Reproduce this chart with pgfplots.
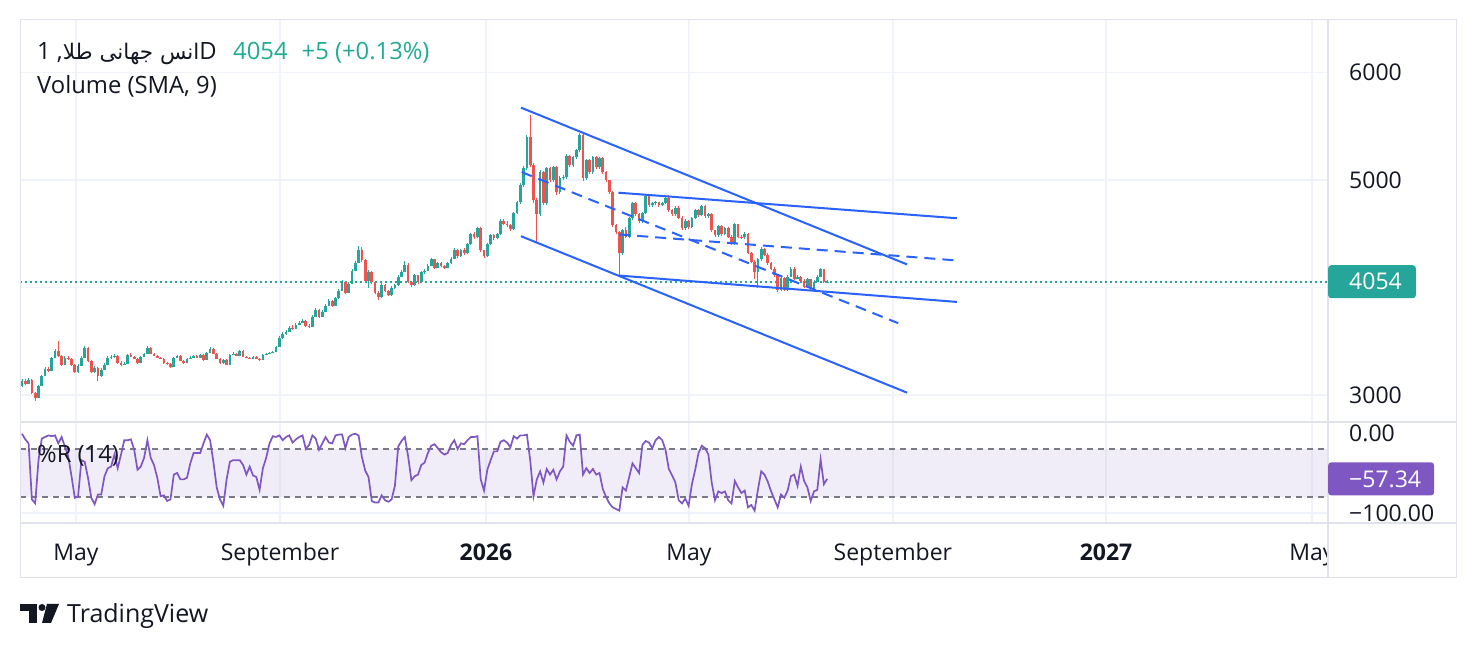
\documentclass[border=0pt]{standalone}
\usepackage{pgfplots}
\pgfplotsset{compat=1.18}
\usepackage{pgfplotstable}
\usepackage{fontspec}
\setmainfont{Open Sans}
\newfontfamily\arabicfont[Script=Arabic]{DejaVu Sans}
\TeXXeTstate=1
\definecolor{tvup}{HTML}{26A69A}
\definecolor{tvdown}{HTML}{EF5350}
\definecolor{tvblue}{HTML}{2962FF}
\definecolor{tvgrid}{HTML}{F0F3FA}
\definecolor{tvsep}{HTML}{E0E3EB}
\definecolor{tvtext}{HTML}{131722}
\definecolor{tvpurple}{HTML}{7E57C2}
\definecolor{tvdash}{HTML}{787B86}
\definecolor{tvteal}{HTML}{22AB94}
\newcommand{\tvfont}{\fontsize{23}{28}\selectfont}
\newcommand{\tvtitlefont}{\fontsize{23.8}{28}\selectfont}

\pgfplotstableread{
i o h l c r
0 3087 3150 3075 3133 -1
1 3133 3145 3095 3105 -8
2 3105 3155 3098 3142 -13
3 3142 3150 3010 3021 -83
4 3021 3030 2948 2975 -88
5 2975 3095 2968 3087 -34
6 3087 3190 3080 3180 -7
7 3180 3258 3172 3245 -5
8 3245 3262 3215 3226 -3
9 3226 3355 3220 3348 -4
10 3348 3425 3340 3413 -3
11 3413 3506 3355 3366 -13
12 3366 3372 3270 3282 -5
13 3282 3360 3275 3348 -17
14 3348 3365 3325 3338 -29
15 3338 3345 3270 3282 -54
16 3282 3290 3205 3217 -81
17 3217 3285 3208 3273 -79
18 3273 3358 3265 3348 -34
19 3348 3460 3340 3441 -36
20 3441 3450 3310 3320 -56
21 3320 3328 3205 3217 -81
22 3217 3265 3200 3254 -89
23 3254 3262 3133 3180 -77
24 3180 3248 3170 3236 -77
25 3236 3295 3228 3282 -54
26 3282 3358 3275 3348 -44
27 3348 3368 3335 3352 -42
28 3352 3380 3345 3366 -27
29 3366 3372 3292 3301 -44
30 3301 3312 3272 3282 -27
31 3282 3305 3275 3292 -9
32 3292 3385 3285 3376 -9
33 3376 3388 3350 3357 -8
34 3357 3365 3330 3338 -21
35 3338 3345 3292 3301 -46
36 3301 3365 3295 3357 -42
37 3357 3395 3350 3385 -31
38 3385 3452 3378 3441 -9
39 3441 3448 3378 3385 -31
40 3385 3392 3358 3366 -40
41 3366 3374 3340 3348 -56
42 3348 3356 3330 3338 -79
43 3338 3345 3292 3301 -78
44 3301 3310 3282 3292 -85
45 3292 3298 3255 3264 -83
46 3264 3355 3258 3348 -52
47 3348 3375 3340 3366 -50
48 3366 3372 3312 3320 -58
49 3320 3328 3292 3301 -58
50 3301 3345 3295 3338 -56
51 3338 3358 3330 3345 -38
52 3345 3375 3340 3366 -25
53 3366 3372 3340 3348 -25
54 3348 3385 3342 3376 -25
55 3376 3382 3320 3329 -13
56 3329 3402 3322 3394 -2
57 3394 3445 3388 3431 -9
58 3431 3438 3378 3385 -36
59 3385 3390 3330 3338 -68
60 3338 3345 3292 3301 -83
61 3301 3338 3290 3329 -91
62 3329 3336 3275 3282 -58
63 3282 3385 3276 3376 -36
64 3376 3396 3368 3385 -34
65 3385 3392 3358 3366 -34
66 3366 3422 3360 3413 -34
67 3413 3420 3350 3357 -40
68 3357 3365 3340 3348 -52
69 3348 3356 3330 3338 -42
70 3338 3366 3332 3357 -53
71 3357 3362 3330 3338 -55
72 3338 3345 3320 3329 -71
73 3329 3384 3322 3376 -44
74 3376 3394 3370 3385 -31
75 3385 3403 3378 3394 -13
76 3394 3412 3388 3404 -4
77 3404 3460 3398 3450 -5
78 3450 3545 3445 3534 -3
79 3534 3582 3525 3571 -9
80 3571 3600 3560 3590 -5
81 3590 3640 3582 3627 -3
82 3627 3650 3608 3618 -12
83 3618 3666 3610 3655 -8
84 3655 3685 3648 3674 -5
85 3674 3705 3668 3692 -3
86 3692 3700 3636 3646 -20
87 3646 3658 3625 3637 -15
88 3637 3740 3630 3730 -3
89 3730 3808 3722 3795 -7
90 3795 3802 3720 3730 -21
91 3730 3788 3722 3776 -13
92 3776 3845 3768 3832 -5
93 3832 3892 3825 3879 -12
94 3879 3888 3822 3832 -13
95 3832 3910 3825 3898 -3
96 3898 3985 3890 3972 -2
97 3972 4070 3965 4056 -2
98 4056 4065 3940 3953 -19
99 3953 4050 3945 4037 -5
100 4037 4170 4030 4158 -2
101 4158 4248 4150 4233 -1
102 4233 4382 4225 4354 -3
103 4354 4380 4240 4252 -30
104 4252 4262 4050 4065 -47
105 4065 4160 4000 4149 -55
106 4149 4158 4030 4047 -85
107 4047 4060 3940 3953 -87
108 3953 3968 3885 3916 -87
109 3916 4040 3905 4028 -78
110 4028 4035 3960 3972 -84
111 3972 3980 3920 3935 -86
112 3935 4012 3925 4000 -83
113 4000 4032 3990 4019 -66
114 4019 4115 4010 4102 -17
115 4102 4160 4095 4149 -10
116 4149 4245 4140 4214 -5
117 4214 4225 4040 4056 -29
118 4056 4065 4005 4019 -59
119 4019 4125 4010 4112 -54
120 4112 4120 4035 4047 -52
121 4047 4150 4040 4140 -40
122 4140 4170 4130 4158 -37
123 4158 4215 4150 4205 -25
124 4205 4272 4198 4261 -16
125 4261 4268 4175 4186 -14
126 4186 4235 4178 4224 -19
127 4224 4240 4195 4205 -24
128 4205 4212 4175 4186 -27
129 4186 4235 4180 4224 -25
130 4224 4282 4218 4270 -15
131 4270 4365 4262 4354 -9
132 4354 4362 4278 4289 -20
133 4289 4358 4282 4345 -13
134 4345 4370 4305 4317 -14
135 4317 4412 4310 4401 -9
136 4401 4508 4392 4494 -5
137 4494 4515 4455 4466 -5
138 4466 4562 4458 4550 -4
139 4550 4560 4330 4345 -58
140 4345 4352 4275 4289 -72
141 4289 4412 4280 4401 -46
142 4401 4498 4392 4485 -34
143 4485 4500 4445 4457 -23
144 4457 4505 4448 4494 -23
145 4494 4640 4485 4624 -11
146 4624 4640 4585 4596 -9
147 4596 4615 4565 4578 -12
148 4578 4590 4530 4541 -18
149 4541 4705 4532 4690 -4
150 4690 4810 4680 4792 -7
151 4792 4970 4780 4951 -3
152 4951 5130 4940 5109 -3
153 5109 5420 5095 5398 -2
154 5398 5603 5120 5137 -34
155 5137 5160 4790 4811 -79
156 4811 4830 4410 4680 -58
157 4680 5090 4665 5072 -48
158 5072 5085 4765 4783 -62
159 4783 5125 4770 5109 -45
160 5109 5120 4980 4997 -52
161 4997 5135 4985 5118 -46
162 5118 5130 4865 4885 -58
163 4885 5035 4870 5016 -48
164 5016 5045 5000 5025 -42
165 5025 5240 5015 5221 -3
166 5221 5235 5125 5137 -11
167 5137 5225 5125 5212 -16
168 5212 5290 5200 5277 -3
169 5277 5440 5265 5417 -2
170 5417 5430 4995 5016 -52
171 5016 5200 5005 5184 -44
172 5184 5195 5060 5072 -50
173 5072 5228 5060 5212 -45
174 5212 5225 5105 5118 -52
175 5118 5215 5108 5202 -50
176 5202 5212 5060 5072 -70
177 5072 5085 4985 4997 -80
178 4997 5005 4870 4885 -88
179 4885 4895 4560 4578 -93
180 4578 4590 4500 4513 -95
181 4513 4525 4112 4317 -97
182 4317 4545 4305 4531 -68
183 4531 4560 4460 4475 -72
184 4475 4655 4465 4643 -55
185 4643 4795 4630 4783 -38
186 4783 4795 4668 4680 -44
187 4680 4690 4600 4615 -50
188 4615 4702 4605 4690 -15
189 4690 4862 4680 4848 -10
190 4848 4860 4752 4764 -12
191 4764 4798 4750 4783 -19
192 4783 4808 4770 4792 -9
193 4792 4800 4752 4764 -5
194 4764 4795 4755 4783 -9
195 4783 4845 4775 4829 -21
196 4829 4860 4705 4718 -45
197 4718 4728 4668 4680 -53
198 4680 4758 4670 4745 -62
199 4745 4755 4640 4652 -84
200 4652 4662 4535 4550 -88
201 4550 4638 4540 4624 -82
202 4624 4632 4545 4559 -91
203 4559 4655 4550 4643 -64
204 4643 4732 4635 4718 -46
205 4718 4728 4660 4671 -25
206 4671 4768 4662 4755 -16
207 4755 4765 4650 4662 -19
208 4662 4695 4652 4680 -27
209 4680 4690 4518 4531 -62
210 4531 4540 4472 4485 -84
211 4485 4580 4475 4569 -73
212 4569 4578 4482 4494 -75
213 4494 4562 4485 4550 -73
214 4550 4560 4462 4475 -84
215 4475 4485 4395 4410 -88
216 4410 4600 4400 4587 -60
217 4587 4595 4462 4475 -68
218 4475 4492 4452 4466 -75
219 4466 4515 4455 4503 -72
220 4503 4512 4310 4326 -93
221 4326 4335 4228 4242 -90
222 4242 4255 4080 4140 -97
223 4140 4272 4000 4261 -71
224 4261 4380 4250 4363 -48
225 4363 4372 4295 4307 -52
226 4307 4318 4210 4224 -61
227 4224 4235 4165 4177 -73
228 4177 4188 4098 4112 -83
229 4112 4122 3960 3981 -93
230 3981 4105 3965 4093 -77
231 4093 4102 3965 3981 -81
232 3981 4115 3972 4102 -72
233 4102 4190 4095 4177 -54
234 4177 4188 4072 4084 -52
235 4084 4115 4075 4102 -66
236 4102 4110 4055 4065 -42
237 4065 4075 3995 4009 -60
238 4009 4088 4000 4075 -68
239 4075 4082 3978 3991 -85
240 3991 4068 3982 4056 -73
241 4056 4115 4048 4102 -71
242 4102 4182 4095 4168 -33
243 4168 4175 4040 4049 -64
244 4049 4070 4038 4054 -57.34
}\candles

\begin{document}
\begin{tikzpicture}
\path[use as bounding box] (0pt,0pt) rectangle (1476pt,650pt);
\fill[white] (0pt,0pt) rectangle (1476pt,650pt);

% ---------------- price pane ----------------
\begin{axis}[
  at={(20pt,228pt)}, anchor=south west,
  scale only axis, width=1308pt, height=402pt,
  xmin=-0.606, xmax=395.76, ymin=2748, ymax=6491,
  axis line style={draw=none},
  major tick length=0pt,
  xtick={16.36,78.18,140.6,202.1,263.9,328.5,390.9},
  xticklabels={,,,,,,},
  ytick={3000,4000,5000,6000},
  yticklabels={3000,,5000,6000},
  yticklabel pos=right,
  yticklabel style={anchor=west, inner sep=0pt, xshift=21pt},
  tick label style={font=\tvfont, text=tvtext},
  xmajorgrids, ymajorgrids,
  major grid style={draw=tvgrid, line width=1.3pt},
]
\addplot[tvup, line width=1.6pt, dash pattern=on 1.6pt off 3.4pt] coordinates {(-0.606,4054) (395.76,4054)};
% wicks
\addplot[tvup, line width=1pt, quiver={u=0, v={\thisrow{h}-\thisrow{l}}},
  restrict expr to domain={\thisrow{c}-\thisrow{o}}{0:100000}] table[x=i, y=l] {\candles};
\addplot[tvdown, line width=1pt, quiver={u=0, v={\thisrow{h}-\thisrow{l}}},
  restrict expr to domain={\thisrow{c}-\thisrow{o}}{-100000:-0.001}] table[x=i, y=l] {\candles};
% bodies
\addplot[tvup, line width=2.7pt, quiver={u=0, v={\thisrow{c}-\thisrow{o}}},
  restrict expr to domain={\thisrow{c}-\thisrow{o}}{0:100000}] table[x=i, y=o] {\candles};
\addplot[tvdown, line width=2.7pt, quiver={u=0, v={\thisrow{c}-\thisrow{o}}},
  restrict expr to domain={\thisrow{c}-\thisrow{o}}{-100000:-0.001}] table[x=i, y=o] {\candles};
% trend lines
\addplot[tvblue, line width=2pt] coordinates {(151.2,5675) (268.2,4215)};
\addplot[tvblue, line width=2pt] coordinates {(151.2,4478) (268.2,3021)};
\addplot[tvblue, line width=2pt, dash pattern=on 11pt off 7pt] coordinates {(151.4,5075) (265.5,3668)};
\addplot[tvblue, line width=2pt] coordinates {(180.7,4883) (283.3,4645)};
\addplot[tvblue, line width=2pt] coordinates {(180.7,4112) (283.3,3866)};
\addplot[tvblue, line width=2pt, dash pattern=on 11pt off 7pt] coordinates {(181.0,4494) (283.3,4252)};
\coordinate (lastp) at (axis cs:395.76,4054);
\end{axis}

% ---------------- %R pane ----------------
\begin{axis}[
  at={(20pt,127pt)}, anchor=south west,
  scale only axis, width=1308pt, height=101pt,
  xmin=-0.606, xmax=395.76, ymin=-112.5, ymax=13.75,
  axis line style={draw=none},
  major tick length=0pt,
  xtick={16.36,78.18,140.6,202.1,263.9,328.5,390.9},
  xticklabels={May,September,\textbf{2026},May,September,\textbf{2027},May},
  xticklabel style={anchor=base, inner sep=0pt, yshift=-38pt},
  ytick={-100,0},
  yticklabels={−100.00,0.00},
  yticklabel pos=right,
  yticklabel style={anchor=west, inner sep=0pt, xshift=21pt},
  tick label style={font=\tvfont, text=tvtext},
  xmajorgrids,
  major grid style={draw=tvgrid, line width=1.3pt},
]
\fill[tvpurple, fill opacity=0.1] (axis cs:-0.606,-80) rectangle (axis cs:395.76,-20);
\addplot[tvgrid, line width=1.3pt] coordinates {(-0.606,-100) (395.76,-100)};
\addplot[tvdash, line width=1.3pt, dash pattern=on 6pt off 5pt] coordinates {(-0.606,-20) (395.76,-20)};
\addplot[tvdash, line width=1.3pt, dash pattern=on 6pt off 5pt] coordinates {(-0.606,-80) (395.76,-80)};
\addplot[tvpurple, line width=1.7pt] table[x=i, y=r] {\candles};
\coordinate (lastr) at (axis cs:395.76,-57.34);
\end{axis}

\begin{scope}[x=1pt, y=1pt]
% hide overflow of last date label into price scale
\fill[white] (1329,73) rectangle (1455.5,126);
% separators and frame
\draw[tvsep, line width=1.8pt] (20,228) -- (1456,228);
\draw[tvsep, line width=1.8pt] (20,127) -- (1456,127);
\draw[tvsep, line width=1.5pt] (1328,72) -- (1328,630);
\draw[tvsep, line width=1pt] (20,72) rectangle (1456,630);
% value labels
\node[anchor=west, fill=tvup, text=white, inner xsep=0pt, inner ysep=0pt,
  minimum height=33pt, rounded corners=3pt, font=\tvfont] at (lastp) {\kern21pt 4054\kern14pt};
\node[anchor=west, fill=tvpurple, text=white, inner xsep=0pt, inner ysep=0pt,
  minimum height=33pt, rounded corners=3pt, font=\tvfont] at (lastr) {\kern21pt −57.34\kern13pt};
% legends
\node[anchor=base west, inner sep=0pt, font=\tvtitlefont, text=tvtext] at (37,590)
  {1 ,{\arabicfont\fontsize{21.5}{28}\selectfont\beginR انس جهانی طلا\endR}D};
\node[anchor=base west, inner sep=0pt, font=\tvtitlefont, text=tvteal] at (233,590)
  {4054\hspace{14pt}+5 (+0.13\%)};
\node[anchor=base west, inner sep=0pt, font=\tvtitlefont, text=tvtext] at (37,556) {Volume (SMA, 9)};
\node[anchor=base west, inner sep=0pt, font=\tvtitlefont, text=tvtext] at (37,187) {\%R (14)};
% TradingView logo
\fill[tvtext] (20,46) rectangle (37,39);
\fill[tvtext] (29,39) rectangle (37,27);
\fill[tvtext] (42,42.5) circle (3.5);
\fill[tvtext] (47,46) -- (59,46) -- (51,27) -- (42,27) -- cycle;
\node[anchor=base west, inner sep=0pt, font=\fontsize{25}{29}\selectfont, text=tvtext] at (67,27) {TradingView};
\end{scope}
\end{tikzpicture}
\end{document}
